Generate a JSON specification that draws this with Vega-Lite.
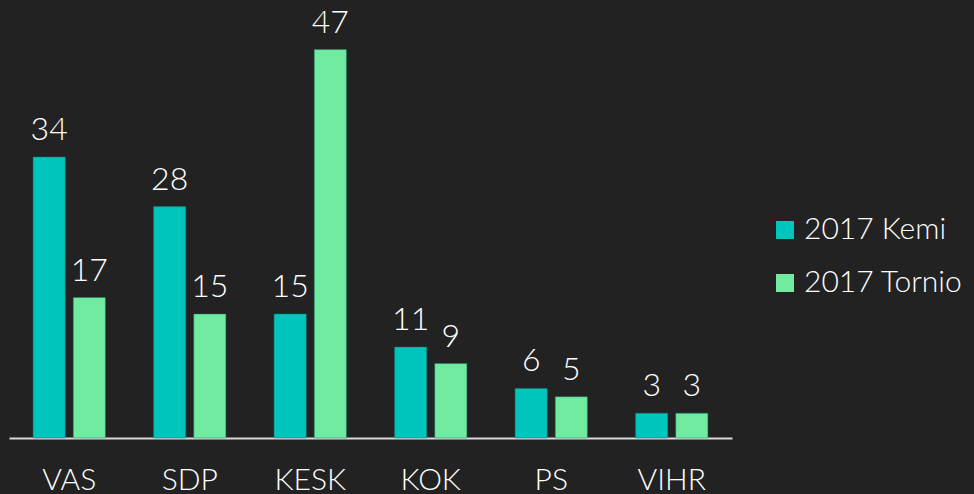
{
  "$schema": "https://vega.github.io/schema/vega-lite/v6.json",
  "width": 723,
  "height": 438,
  "autosize": {"type": "none"},
  "padding": {"left": 9, "top": 0, "right": 242, "bottom": 56},
  "background": "#222222",
  "config": {
    "view": {"stroke": null},
    "font": "Lato",
    "text": {"font": "Lato"}
  },
  "data": {
    "values": [
      {"party": "VAS", "series": "2017 Kemi", "value": 34},
      {"party": "SDP", "series": "2017 Kemi", "value": 28},
      {"party": "KESK", "series": "2017 Kemi", "value": 15},
      {"party": "KOK", "series": "2017 Kemi", "value": 11},
      {"party": "PS", "series": "2017 Kemi", "value": 6},
      {"party": "VIHR", "series": "2017 Kemi", "value": 3},
      {"party": "VAS", "series": "2017 Tornio", "value": 17},
      {"party": "SDP", "series": "2017 Tornio", "value": 15},
      {"party": "KESK", "series": "2017 Tornio", "value": 47},
      {"party": "KOK", "series": "2017 Tornio", "value": 9},
      {"party": "PS", "series": "2017 Tornio", "value": 5},
      {"party": "VIHR", "series": "2017 Tornio", "value": 3}
    ]
  },
  "encoding": {
    "x": {
      "field": "party",
      "type": "nominal",
      "sort": ["VAS", "SDP", "KESK", "KOK", "PS", "VIHR"],
      "scale": {"paddingInner": 0.4, "paddingOuter": 0.2},
      "axis": {
        "title": null,
        "labelAngle": 0,
        "ticks": false,
        "domainColor": "#d9d9d9",
        "domainWidth": 2,
        "labelColor": "#ffffff",
        "labelFont": "Lato",
        "labelFontWeight": 300,
        "labelFontSize": 30,
        "labelBaseline": "alphabetic",
        "labelPadding": 51
      }
    },
    "xOffset": {
      "field": "series",
      "type": "nominal",
      "scale": {"paddingInner": 0.2, "paddingOuter": 0}
    },
    "y": {
      "field": "value",
      "type": "quantitative",
      "scale": {"domain": [0, 53], "nice": false},
      "axis": null
    }
  },
  "layer": [
    {
      "mark": {"type": "bar", "stroke": "#1a7a70", "strokeWidth": 0.5},
      "encoding": {
        "color": {
          "field": "series",
          "type": "nominal",
          "scale": {"domain": ["2017 Kemi", "2017 Tornio"], "range": ["#00C5BD", "#71EBA0"]},
          "legend": {
            "title": null,
            "orient": "none",
            "legendX": 761,
            "legendY": 215,
            "symbolType": "square",
            "symbolSize": 324,
            "symbolStrokeWidth": 0,
            "labelColor": "#ffffff",
            "labelFont": "Lato",
            "labelFontWeight": 300,
            "labelFontSize": 30,
            "labelOffset": 4,
            "rowPadding": 23
          }
        }
      }
    },
    {
      "mark": {"type": "text", "baseline": "alphabetic", "dy": -17, "fontSize": 32, "fontWeight": 300, "color": "#ffffff", "font": "Lato"},
      "encoding": {
        "text": {"field": "value", "type": "quantitative"}
      }
    }
  ]
}
